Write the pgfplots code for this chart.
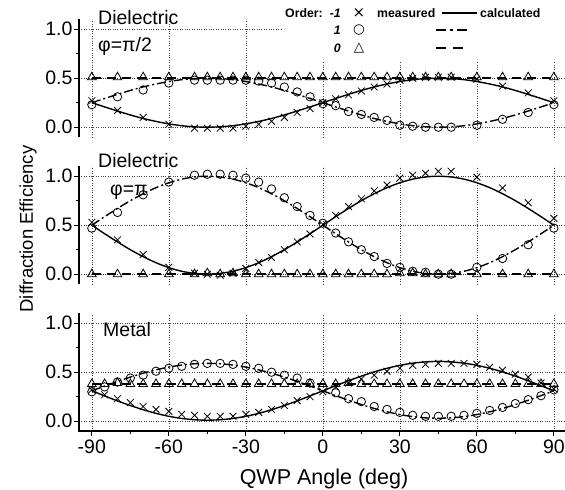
\documentclass[border=0pt]{standalone}
\usepackage{fontspec}
\setmainfont{Liberation Sans}
\newfontfamily\dejavu{DejaVu Sans}
\usepackage{pgfplots}
\usepackage{pgfplotstable}
\pgfplotsset{compat=1.18}

% calculated curves, Dielectric phi=pi/2
\pgfplotstableread{
x m1 p1 z
-90 0.250 0.250 0.5
-85 0.207 0.293 0.5
-80 0.165 0.335 0.5
-75 0.125 0.375 0.5
-70 0.089 0.411 0.5
-65 0.059 0.441 0.5
-60 0.034 0.466 0.5
-55 0.015 0.485 0.5
-50 0.004 0.496 0.5
-45 0.000 0.500 0.5
-40 0.004 0.496 0.5
-35 0.015 0.485 0.5
-30 0.034 0.466 0.5
-25 0.059 0.441 0.5
-20 0.089 0.411 0.5
-15 0.125 0.375 0.5
-10 0.165 0.335 0.5
-5 0.207 0.293 0.5
0 0.250 0.250 0.5
5 0.293 0.207 0.5
10 0.335 0.165 0.5
15 0.375 0.125 0.5
20 0.411 0.089 0.5
25 0.441 0.059 0.5
30 0.466 0.034 0.5
35 0.485 0.015 0.5
40 0.496 0.004 0.5
45 0.500 0.000 0.5
50 0.496 0.004 0.5
55 0.485 0.015 0.5
60 0.466 0.034 0.5
65 0.441 0.059 0.5
70 0.411 0.089 0.5
75 0.375 0.125 0.5
80 0.335 0.165 0.5
85 0.293 0.207 0.5
90 0.250 0.250 0.5
}\topcalc
\pgfplotstableread{
x m1 p1 z
-90 0.27 0.23 0.51
-80 0.17 0.31 0.51
-70 0.10 0.38 0.51
-60 0.03 0.45 0.51
-50 -0.01 0.48 0.51
-45 -0.01 0.48 0.51
-40 -0.01 0.48 0.51
-35 -0.01 0.48 0.51
-30 0.01 0.48 0.51
-25 0.03 0.47 0.51
-20 0.06 0.45 0.51
-15 0.10 0.41 0.51
-10 0.15 0.36 0.51
-5 0.19 0.31 0.51
0 0.25 0.24 0.51
5 0.29 0.22 0.51
10 0.33 0.16 0.51
15 0.37 0.13 0.51
20 0.41 0.10 0.51
25 0.44 0.07 0.51
30 0.48 0.02 0.51
35 0.50 0.01 0.51
40 0.51 0.00 0.51
45 0.51 0.00 0.51
50 0.51 0.00 0.51
60 0.49 0.02 0.51
70 0.42 0.08 0.51
80 0.35 0.15 0.51
90 0.27 0.23 0.51
}\topmeas

% calculated curves, Dielectric phi=pi
\pgfplotstableread{
x m1 p1 z
-90 0.500 0.500 0
-85 0.413 0.587 0
-80 0.329 0.671 0
-75 0.250 0.750 0
-70 0.179 0.821 0
-65 0.117 0.883 0
-60 0.067 0.933 0
-55 0.030 0.970 0
-50 0.008 0.992 0
-45 0.000 1.000 0
-40 0.008 0.992 0
-35 0.030 0.970 0
-30 0.067 0.933 0
-25 0.117 0.883 0
-20 0.179 0.821 0
-15 0.250 0.750 0
-10 0.329 0.671 0
-5 0.413 0.587 0
0 0.500 0.500 0
5 0.587 0.413 0
10 0.671 0.329 0
15 0.750 0.250 0
20 0.821 0.179 0
25 0.883 0.117 0
30 0.933 0.067 0
35 0.970 0.030 0
40 0.992 0.008 0
45 1.000 0.000 0
50 0.992 0.008 0
55 0.970 0.030 0
60 0.933 0.067 0
65 0.883 0.117 0
70 0.821 0.179 0
75 0.750 0.250 0
80 0.671 0.329 0
85 0.587 0.413 0
90 0.500 0.500 0
}\midcalc
\pgfplotstableread{
x m1 p1 z
-90 0.53 0.47 0.00
-80 0.35 0.63 0.00
-70 0.20 0.81 0.00
-60 0.07 0.94 0.00
-50 0.01 1.01 0.00
-45 0.00 1.02 0.01
-40 -0.01 1.02 0.00
-35 0.01 1.01 0.01
-30 0.06 0.98 0.00
-25 0.12 0.94 0.00
-20 0.17 0.87 0.00
-15 0.25 0.78 0.00
-10 0.33 0.69 0.00
-5 0.41 0.60 0.00
0 0.51 0.52 0.00
5 0.60 0.42 0.00
10 0.69 0.33 0.00
15 0.77 0.25 0.00
20 0.85 0.18 0.00
25 0.91 0.11 0.00
30 0.98 0.07 0.01
35 1.01 0.03 0.01
40 1.03 0.02 0.00
45 1.05 0.00 0.00
50 1.05 0.00 0.00
60 0.99 0.07 0.00
70 0.88 0.16 0.00
80 0.73 0.30 0.00
90 0.57 0.47 0.00
}\midmeas

% calculated curves, Metal
\pgfplotstableread{
x m1 p1 z
-90 0.310 0.310 0.38
-85 0.258 0.359 0.38
-80 0.207 0.406 0.38
-75 0.160 0.450 0.38
-70 0.117 0.490 0.38
-65 0.080 0.524 0.38
-60 0.050 0.552 0.38
-55 0.028 0.573 0.38
-50 0.015 0.586 0.38
-45 0.010 0.590 0.38
-40 0.015 0.586 0.38
-35 0.028 0.573 0.38
-30 0.050 0.552 0.38
-25 0.080 0.524 0.38
-20 0.117 0.490 0.38
-15 0.160 0.450 0.38
-10 0.207 0.406 0.38
-5 0.258 0.359 0.38
0 0.310 0.310 0.38
5 0.362 0.261 0.38
10 0.413 0.214 0.38
15 0.460 0.170 0.38
20 0.503 0.130 0.38
25 0.540 0.096 0.38
30 0.570 0.068 0.38
35 0.592 0.047 0.38
40 0.605 0.034 0.38
45 0.610 0.030 0.38
50 0.605 0.034 0.38
55 0.592 0.047 0.38
60 0.570 0.068 0.38
65 0.540 0.096 0.38
70 0.503 0.130 0.38
75 0.460 0.170 0.38
80 0.413 0.214 0.38
85 0.362 0.261 0.38
90 0.310 0.310 0.38
}\botcalc
\pgfplotstableread{
x m1 p1 z
-90 0.32 0.30 0.38
-85 0.27 0.35 0.38
-80 0.23 0.40 0.39
-75 0.19 0.44 0.38
-70 0.15 0.47 0.38
-65 0.12 0.51 0.38
-60 0.10 0.54 0.38
-55 0.07 0.56 0.38
-50 0.06 0.58 0.38
-45 0.05 0.59 0.38
-40 0.05 0.59 0.38
-35 0.05 0.58 0.38
-30 0.07 0.56 0.38
-25 0.09 0.54 0.38
-20 0.12 0.50 0.38
-15 0.16 0.47 0.38
-10 0.21 0.44 0.38
-5 0.25 0.39 0.38
0 0.30 0.34 0.38
5 0.35 0.29 0.38
10 0.39 0.23 0.39
15 0.43 0.20 0.38
20 0.47 0.15 0.38
25 0.51 0.12 0.38
30 0.54 0.09 0.38
35 0.57 0.06 0.38
40 0.58 0.05 0.38
45 0.59 0.05 0.38
50 0.59 0.05 0.38
55 0.59 0.06 0.38
60 0.58 0.08 0.38
65 0.55 0.11 0.38
70 0.52 0.14 0.38
75 0.48 0.18 0.38
80 0.45 0.22 0.38
85 0.39 0.26 0.38
90 0.33 0.32 0.38
}\botmeas

\pgfplotsset{
  panel/.style={
    scale only axis, width=487.7pt, height=117.6pt,
    xmin=-95, xmax=95, ymin=-0.1, ymax=1.1,
    axis line style={draw=none},
    xtick={-90,-60,-30,0,30,60,90},
    xticklabels={-90,-60,-30,0,30,60,90},
    ytick={0,0.5,1}, yticklabels={0.0,0.5,1.0},
    minor y tick num=1,
    tick pos=left, tick align=outside,
    major tick length=5pt, minor tick length=3pt,
    every tick/.style={black, line width=1pt},
    grid=major,
    major grid style={dotted, black!75, line width=0.6pt},
    ticklabel style={font=\fontsize{19.5}{22}\selectfont},
    yticklabel style={xshift=2pt},
    clip=false,
  },
  calcA/.style={no marks, black, line width=1.4pt, smooth},
  calcB/.style={no marks, black, line width=1.4pt, smooth, dash pattern=on 9pt off 3pt on 2pt off 3pt},
  calcC/.style={no marks, black, line width=1.4pt, dash pattern=on 9pt off 6pt},
  measA/.style={only marks, black, mark=x, mark size=4.8pt, mark options={line width=0.8pt}},
  measB/.style={only marks, black, mark=o, mark size=4.2pt, mark options={line width=0.8pt}},
  measC/.style={only marks, black, mark=triangle, mark size=5pt, mark options={line width=0.8pt}},
}

\begin{document}
\begin{tikzpicture}
\useasboundingbox (-79pt,-59pt) rectangle (486pt,431pt);

% ---- top panel
\begin{axis}[panel, name=top, at={(0pt,294pt)}, anchor=south west, xmajorticks=false]
\addplot[calcC] table[x=x,y=z]{\topcalc};
\addplot[calcB] table[x=x,y=p1]{\topcalc};
\addplot[calcA] table[x=x,y=m1]{\topcalc};
\addplot[measC] table[x=x,y=z]{\topmeas};
\addplot[measB] table[x=x,y=p1]{\topmeas};
\addplot[measA] table[x=x,y=m1]{\topmeas};
\end{axis}
\draw[line width=1.5pt] (top.south west) -- (top.north west);

% ---- middle panel
\begin{axis}[panel, name=mid, at={(0pt,147pt)}, anchor=south west, xmajorticks=false]
\addplot[calcC] table[x=x,y=z]{\midcalc};
\addplot[calcB] table[x=x,y=p1]{\midcalc};
\addplot[calcA] table[x=x,y=m1]{\midcalc};
\addplot[measC] table[x=x,y=z]{\midmeas};
\addplot[measB] table[x=x,y=p1]{\midmeas};
\addplot[measA] table[x=x,y=m1]{\midmeas};
\end{axis}
\draw[line width=1.5pt] (mid.south west) -- (mid.north west);

% ---- bottom panel
\begin{axis}[panel, name=bot, at={(0pt,0pt)}, anchor=south west, minor x tick num=1]
\addplot[calcC] table[x=x,y=z]{\botcalc};
\addplot[calcB] table[x=x,y=p1]{\botcalc};
\addplot[calcA] table[x=x,y=m1]{\botcalc};
\addplot[measC] table[x=x,y=z]{\botmeas};
\addplot[measB] table[x=x,y=p1]{\botmeas};
\addplot[measA] table[x=x,y=m1]{\botmeas};
\end{axis}
\draw[line width=1.5pt] (bot.north west) -- (bot.south west) -- (bot.south east);

% ---- axis titles
\node[rotate=90, anchor=base, font=\fontsize{18.5}{20}\selectfont] at (-46pt,202pt) {Diffraction Efficiency};
\node[anchor=base, font=\fontsize{21.5}{24}\selectfont] at (245pt,-53pt) {QWP Angle (deg)};

% ---- panel labels
\begin{scope}[every node/.style={anchor=base west, inner sep=0pt, font=\fontsize{19.5}{22}\selectfont}]
\node at (19pt,406pt) {Dielectric};
\node at (19pt,379pt) {φ=π/2};
\node at (19pt,263pt) {Dielectric};
\node at (31pt,235pt) {φ=π};
\node at (24pt,94pt) {Metal};
\end{scope}

% ---- legend box
\fill[white] (204pt,370pt) rectangle (486pt,431pt);
\begin{scope}[every node/.style={inner sep=0pt, font=\fontsize{12.3}{14}\selectfont\bfseries}]
\node[anchor=west] at (206pt,418pt) {Order:};
\node[anchor=east] at (262pt,418pt) {\itshape -1};
\node[anchor=east] at (262pt,401pt) {\itshape 1};
\node[anchor=east] at (262pt,383pt) {\itshape 0};
\node[font=\dejavu\fontsize{15}{15}\selectfont] at (280pt,418pt) {×};
\node[font=\dejavu\fontsize{13.5}{14}\selectfont] at (280pt,401pt) {○};
\node[font=\dejavu\fontsize{13.5}{14}\selectfont] at (280pt,383pt) {△};
\node[anchor=west] at (298pt,418pt) {measured};
\node[anchor=west] at (401pt,418pt) {calculated};
\end{scope}
\draw[line width=1.4pt] (363pt,418pt) -- (398pt,418pt);
\draw[line width=1.4pt, dash pattern=on 10pt off 4pt on 3pt off 4pt] (357pt,401pt) -- (388pt,401pt);
\draw[line width=1.4pt, dash pattern=on 10pt off 7pt] (357pt,383pt) -- (384pt,383pt);
\end{tikzpicture}
\end{document}
